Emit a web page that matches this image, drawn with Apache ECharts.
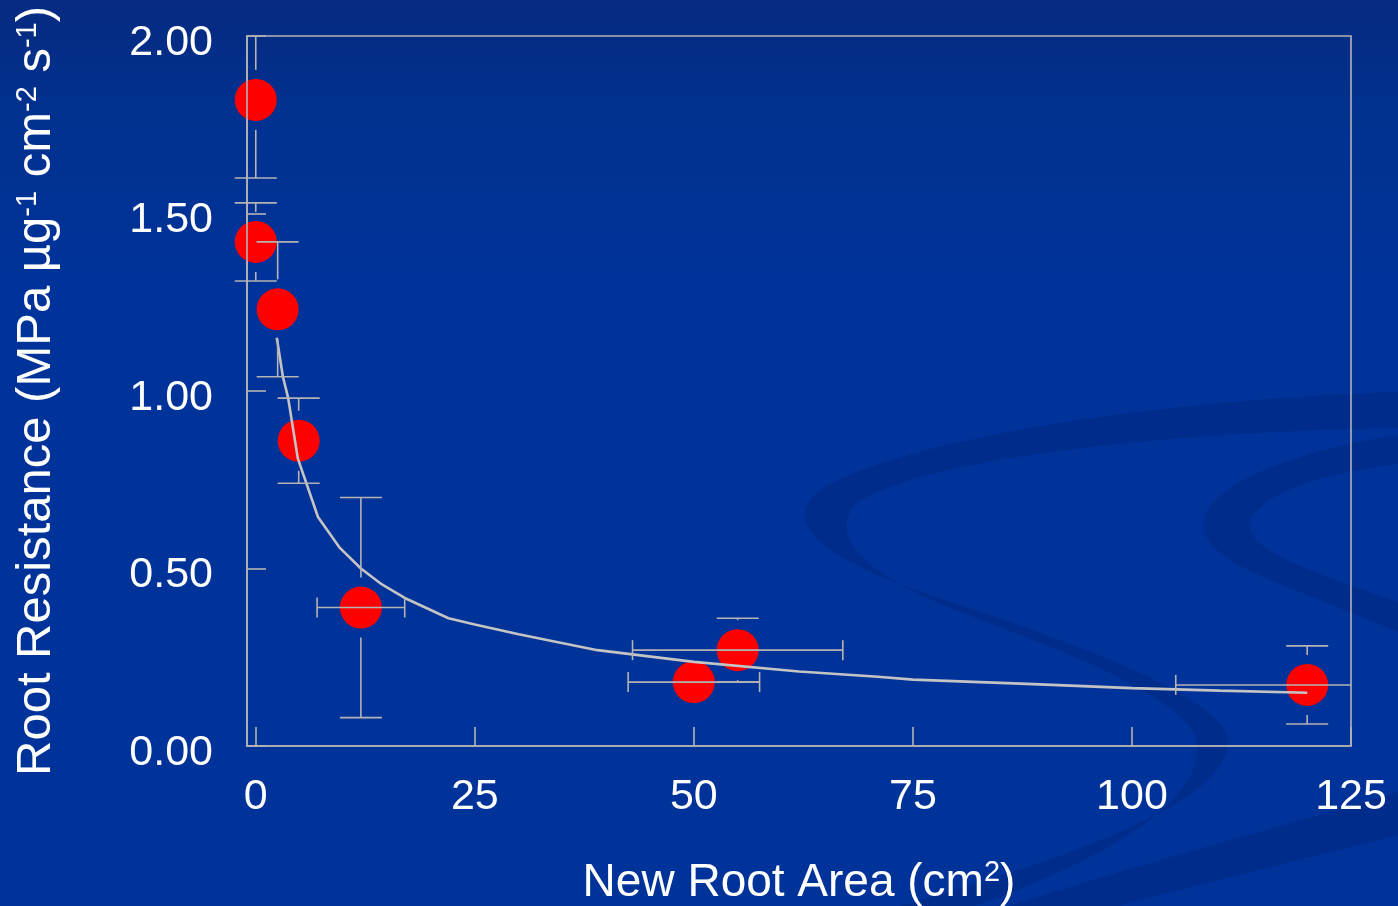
<!DOCTYPE html>
<html>
<head>
<meta charset="utf-8">
<script src="https://cdn.jsdelivr.net/npm/echarts@6/dist/echarts.min.js"></script>
<style>
html,body{margin:0;padding:0;background:#003399;}
#chart{width:1398px;height:906px;}
</style>
</head>
<body>
<div id="chart"></div>
<script>
// ---- data ----
const pointX   = [0,    0,    2.5,  4.9,  12,   50,   55,   120];
const pointY   = [1.82, 1.42, 1.23, 0.86, 0.39, 0.18, 0.27, 0.172];
const errYLow  = [1.60, 1.31, 1.04, 0.74, 0.08, null, 0.18, 0.062];
const errYHigh = [2.04, 1.53, 1.42, 0.98, 0.70, null, 0.36, 0.282];
const errXLow  = [null, null, null, null, 7,    42.5, 43,   105];
const errXHigh = [null, null, null, null, 17,   57.5, 67,   135];

const fitX = [2.4, 3.1, 3.7, 4.8, 7.1, 9.6, 12, 14.4, 17, 22, 25, 30, 39, 50, 62, 71, 75, 88, 100, 110, 120];
const fitY = [1.15, 1.04, 0.98, 0.81, 0.645, 0.558, 0.50, 0.455, 0.417, 0.36, 0.342, 0.315, 0.27, 0.237, 0.21, 0.195, 0.187, 0.175, 0.163, 0.156, 0.15];

const xTicks = [0, 25, 50, 75, 100, 125];
const yTicks = [0, 0.5, 1.0, 1.5, 2.0];

// ---- build ----
const FONT = '"Liberation Sans", Arial, sans-serif';
const AX = '#b4b4b4';
const chart = echarts.init(document.getElementById('chart'));

const scatterData = pointX.map((x, i) => [x, pointY[i]]);
const fitData = fitX.map((x, i) => [x, fitY[i]]);
const m = v => (v === null ? '-' : v);
const errData = pointX.map((x, i) => [x, pointY[i], m(errYLow[i]), m(errYHigh[i]), m(errXLow[i]), m(errXHigh[i])]);

const GAP = 30, CAPW = 21, CAPH = 10;
function seg(x1, y1, x2, y2) {
  return { type: 'line', shape: { x1, y1, x2, y2 }, style: { stroke: AX, lineWidth: 1.6 } };
}
function renderErr(params, api) {
  const cs = params.coordSys;
  const L = cs.x, R = cs.x + cs.width, T = cs.y, B = cs.y + cs.height;
  const x = api.value(0), y = api.value(1);
  const c = api.coord([x, y]);
  const ch = [];
  const yl = api.value(2), yh = api.value(3), xl = api.value(4), xh = api.value(5);
  if (!isNaN(yh)) {
    let py = api.coord([x, yh])[1];
    const vis = py >= T - 0.5;
    py = Math.max(T, py);
    if (c[1] - GAP > py) ch.push(seg(c[0], py, c[0], c[1] - GAP));
    if (vis) ch.push(seg(c[0] - CAPW, py, c[0] + CAPW, py));
  }
  if (!isNaN(yl)) {
    let py = api.coord([x, yl])[1];
    const vis = py <= B + 0.5;
    py = Math.min(B, py);
    if (py > c[1] + GAP) ch.push(seg(c[0], c[1] + GAP, c[0], py));
    if (vis) ch.push(seg(c[0] - CAPW, py, c[0] + CAPW, py));
  }
  if (!isNaN(xl) && !isNaN(xh)) {
    let px1 = api.coord([xl, y])[0], px2 = api.coord([xh, y])[0];
    const v1 = px1 >= L - 0.5, v2 = px2 <= R + 0.5;
    px1 = Math.max(L, px1); px2 = Math.min(R, px2);
    ch.push(seg(px1, c[1], px2, c[1]));
    if (v1) ch.push(seg(px1, c[1] - CAPH, px1, c[1] + CAPH));
    if (v2) ch.push(seg(px2, c[1] - CAPH, px2, c[1] + CAPH));
  }
  return { type: 'group', children: ch };
}

const swooshFill = 'rgba(0,22,95,0.22)';
const swooshPaths = [
  'M1398,392 C1150,400 900,440 820,490 C770,530 850,570 960,605 C1080,645 1200,690 1225,730 C1250,790 1100,850 900,906 L975,906 C1130,850 1212,790 1195,735 C1170,690 1060,650 960,612 C880,580 830,545 852,508 C900,462 1150,432 1398,428 Z',
  'M1398,435 C1300,450 1220,480 1205,515 C1195,545 1230,565 1300,592 L1398,632 L1398,602 C1300,568 1245,548 1250,522 C1260,492 1330,472 1398,464 Z',
  'M1010,906 C1150,860 1300,822 1398,792 L1398,835 C1300,860 1200,884 1120,906 Z'
];

const richName = (size) => ({
  a: { fontSize: size, fontFamily: FONT, color: '#ffffff', lineHeight: 50, verticalAlign: 'bottom' },
  s: { fontSize: 29, fontFamily: FONT, color: '#ffffff', lineHeight: 30, verticalAlign: 'top', padding: [2, 0, 0, 0] }
});

const option = {
  backgroundColor: {
    type: 'linear', x: 0, y: 0, x2: 0, y2: 1,
    colorStops: [
      { offset: 0, color: '#062a80' },
      { offset: 0.12, color: '#01318f' },
      { offset: 0.3, color: '#003399' },
      { offset: 1, color: '#003399' }
    ]
  },
  animation: false,
  grid: {
    left: 247, right: 47, top: 36, bottom: 160,
    outerBoundsMode: 'none', containLabel: false,
    show: true, borderColor: AX, borderWidth: 1.6, backgroundColor: 'transparent'
  },
  xAxis: {
    type: 'value', min: -1, max: 125, z: 10,
    axisLine: { show: true, onZero: false, lineStyle: { color: AX, width: 1.6 } },
    axisTick: { show: true, inside: true, length: 19, customValues: xTicks, lineStyle: { color: AX, width: 1.6 } },
    axisLabel: { customValues: xTicks, color: '#ffffff', fontSize: 43, fontFamily: FONT, margin: 30 },
    splitLine: { show: false },
    name: '{a|New Root Area (cm}{s|2}{a|)}',
    nameLocation: 'middle', nameGap: 110,
    nameTextStyle: { rich: richName(46) }
  },
  yAxis: {
    type: 'value', min: 0, max: 2, interval: 0.5, z: 10,
    axisLine: { show: true, onZero: false, lineStyle: { color: AX, width: 1.6 } },
    axisTick: { show: true, inside: true, length: 19, lineStyle: { color: AX, width: 1.6 } },
    axisLabel: { color: '#ffffff', fontSize: 43, fontFamily: FONT, margin: 34,
      formatter: v => '{v|' + v.toFixed(2) + '}',
      rich: { v: { fontSize: 43, fontFamily: FONT, color: '#ffffff', lineHeight: 44, padding: [14, 0, 0, 0] } } },
    splitLine: { show: false },
    name: '{a|Root Resistance (MPa µg}{s|-1}{a| cm}{s|-2}{a| s}{s|-1}{a|)}',
    nameLocation: 'middle', nameRotate: 90, nameGap: 186,
    nameTextStyle: { rich: richName(49) }
  },
  series: [
    {
      type: 'custom', coordinateSystem: 'none', data: [0], z: -5, silent: true,
      renderItem: () => ({
        type: 'group',
        children: swooshPaths.map(p => ({ type: 'path', shape: { pathData: p }, style: { fill: swooshFill } }))
      })
    },
    {
      type: 'scatter', data: scatterData, symbol: 'circle', symbolSize: 42, z: 2,
      itemStyle: { color: '#ff0000', opacity: 1 }
    },
    {
      type: 'line', data: fitData, showSymbol: false, smooth: false, z: 3,
      lineStyle: { color: '#c4c4c4', width: 2.6 }
    },
    {
      type: 'custom', data: errData, renderItem: renderErr, z: 4,
      encode: { x: 0, y: 1 }
    }
  ]
};
chart.setOption(option);
</script>
</body>
</html>
